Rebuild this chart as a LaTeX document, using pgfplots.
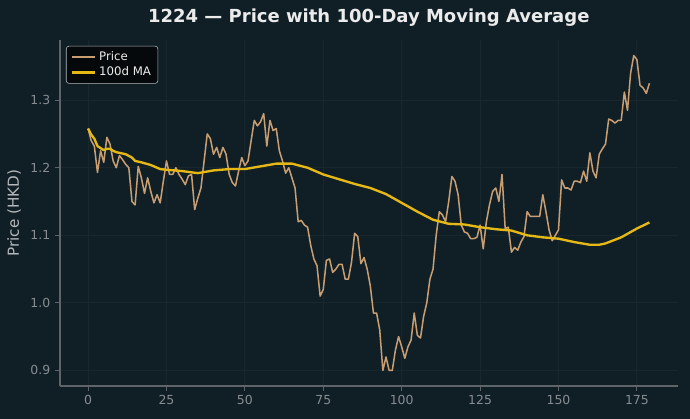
\documentclass[border=0pt]{standalone}
\usepackage{pgfplots}
\pgfplotsset{compat=1.18}
\usepackage{fontspec}
\setmainfont{DejaVu Sans}

\definecolor{bg}{HTML}{101F26}
\definecolor{gridc}{HTML}{18272E}
\definecolor{spine}{HTML}{5E6468}
\definecolor{ticklab}{HTML}{868C90}
\definecolor{labc}{HTML}{B4B8BA}
\definecolor{pricec}{HTML}{C89D72}
\definecolor{mac}{HTML}{E5B815}
\definecolor{legbg}{HTML}{05090B}
\definecolor{titlec}{HTML}{EBEBEB}

\pgfplotstableread{
x y
0 1.258
1 1.240
2 1.232
3 1.193
4 1.225
5 1.208
6 1.245
7 1.235
8 1.210
9 1.200
10 1.218
11 1.212
12 1.205
13 1.200
14 1.150
15 1.145
16 1.202
17 1.185
18 1.162
19 1.185
20 1.165
21 1.148
22 1.160
23 1.148
24 1.180
25 1.210
26 1.190
27 1.190
28 1.200
29 1.190
30 1.183
31 1.175
32 1.188
33 1.190
34 1.138
35 1.155
36 1.170
37 1.210
38 1.250
39 1.243
40 1.220
41 1.230
42 1.215
43 1.230
44 1.220
45 1.190
46 1.178
47 1.173
48 1.195
49 1.215
50 1.203
51 1.210
52 1.240
53 1.270
54 1.262
55 1.268
56 1.280
57 1.232
58 1.270
59 1.255
60 1.258
61 1.225
62 1.210
63 1.192
64 1.200
65 1.185
66 1.170
67 1.120
68 1.122
69 1.115
70 1.112
71 1.085
72 1.065
73 1.055
74 1.010
75 1.020
76 1.063
77 1.065
78 1.045
79 1.050
80 1.057
81 1.057
82 1.035
83 1.035
84 1.060
85 1.103
86 1.098
87 1.058
88 1.067
89 1.050
90 1.025
91 0.985
92 0.985
93 0.960
94 0.900
95 0.920
96 0.900
97 0.900
98 0.930
99 0.950
100 0.935
101 0.918
102 0.935
103 0.945
104 0.985
105 0.952
106 0.948
107 0.980
108 1.000
109 1.035
110 1.050
111 1.100
112 1.135
113 1.130
114 1.120
115 1.150
116 1.187
117 1.180
118 1.160
119 1.115
120 1.105
121 1.103
122 1.095
123 1.095
124 1.097
125 1.115
126 1.080
127 1.120
128 1.145
129 1.165
130 1.170
131 1.150
132 1.190
133 1.110
134 1.112
135 1.075
136 1.082
137 1.078
138 1.090
139 1.098
140 1.135
141 1.128
142 1.128
143 1.128
144 1.128
145 1.160
146 1.135
147 1.108
148 1.092
149 1.100
150 1.108
151 1.182
152 1.170
153 1.170
154 1.167
155 1.180
156 1.180
157 1.178
158 1.195
159 1.180
160 1.222
161 1.195
162 1.185
163 1.220
164 1.228
165 1.235
166 1.272
167 1.270
168 1.266
169 1.270
170 1.270
171 1.312
172 1.285
173 1.340
174 1.366
175 1.360
176 1.322
177 1.318
178 1.310
179 1.325
}\pricetable

\pgfplotstableread{
x y
0 1.258
1 1.249
2 1.243
3 1.232
4 1.229
5 1.226
6 1.228
7 1.228
8 1.225
9 1.223
10 1.222
12 1.220
14 1.215
15 1.210
17 1.208
20 1.204
23 1.198
25 1.197
30 1.195
35 1.192
40 1.196
45 1.198
50 1.198
55 1.202
60 1.206
65 1.206
70 1.200
75 1.190
80 1.183
85 1.176
90 1.170
95 1.161
100 1.148
105 1.135
110 1.123
115 1.117
120 1.116
125 1.112
130 1.109
135 1.107
140 1.100
145 1.097
150 1.095
155 1.090
160 1.086
163 1.086
165 1.088
170 1.097
175 1.110
179 1.119
}\matable

\begin{document}
\begin{tikzpicture}
\fill[bg] (0,0) rectangle (6.9in,4.19in);
\node[font=\fontsize{13}{15}\selectfont\bfseries, text=titlec] at (3.6875in,4.01in)
  {1224 — Price with 100-Day Moving Average};
\begin{axis}[
  at={(0.6in,0.33in)}, anchor=south west,
  scale only axis, width=6.175in, height=3.46in,
  xmin=-8.95, xmax=187.95, ymin=0.877, ymax=1.389,
  axis lines*=left,
  axis line style={spine, line width=0.8pt},
  xtick={0,25,...,175},
  ytick={0.9,1.0,1.1,1.2,1.3},
  yticklabel style={/pgf/number format/.cd, fixed, fixed zerofill, precision=1},
  /pgf/number format/assume math mode=true,
  tick align=outside, major tick length=3.5pt,
  tick style={spine, line width=0.8pt},
  ticklabel style={text=ticklab, font=\fontsize{9}{11}\selectfont},
  grid=major, grid style={gridc, line width=0.6pt},
  ylabel={Price (HKD)},
  ylabel style={text=labc, font=\fontsize{11}{13}\selectfont},
  legend style={at={(0.0097,0.983)}, anchor=north west, fill=legbg,
    draw=labc, rounded corners=2pt, text=titlec,
    font=\fontsize{8.5}{10}\selectfont, inner xsep=3pt, inner ysep=2pt,
    row sep=-1pt},
  legend cell align=left,
  legend image code/.code={\draw[#1] (0cm,0cm) -- (0.6cm,0cm);},
]
\addplot[pricec, line width=1.1pt, line join=round] table[x=x, y=y] {\pricetable};
\addlegendentry{Price}
\addplot[mac, line width=1.7pt, line join=round] table[x=x, y=y] {\matable};
\addlegendentry{100d MA}
\end{axis}
\end{tikzpicture}
\end{document}
